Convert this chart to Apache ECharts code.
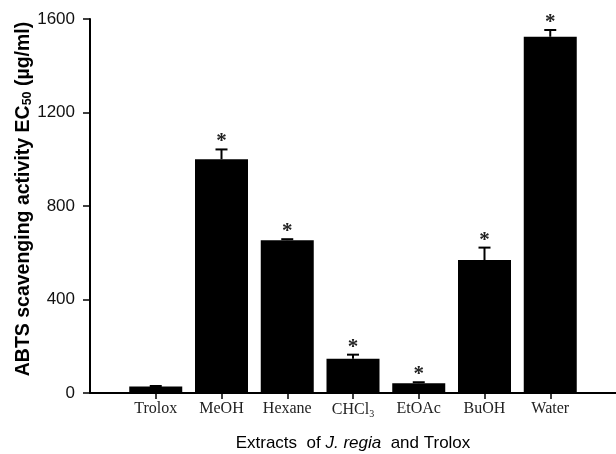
<!DOCTYPE html>
<html>
<head>
<meta charset="utf-8">
<script src="https://cdn.jsdelivr.net/npm/echarts@6/dist/echarts.min.js"></script>
<style>
  html, body { margin: 0; padding: 0; background: #fff; }
  #chart_con { width: 616px; height: 454px; }
</style>
</head>
<body>
<div id="chart_con"></div>
<script>
// extracts on the x axis (Trolox is the reference)
const categories = ['Trolox', 'MeOH', 'Hexane', 'CHCl3', 'EtOAc', 'BuOH', 'Water'];
// EC50 means and error bar sizes, ug/ml
const ec50 = [28, 1000, 654, 147, 42, 569, 1524];
const ec50Err = [2, 42, 4, 17, 4, 53, 29];
// significance marks above bars
const marks = ['', '*', '*', '*', '*', '*', '*'];
const yTicks = [0, 400, 800, 1200, 1600];

const idx = categories.map((c, i) => i);

let chart = echarts.init(document.getElementById('chart_con'));

const option = {
    animation: false,
    grid: {
        left: 90,
        right: 0,
        top: 19,
        bottom: 61,
        outerBoundsMode: 'none'
    },
    xAxis: {
        type: 'value',
        min: -1,
        max: 7,
        splitLine: { show: false },
        axisLine: { show: true, onZero: false, lineStyle: { color: '#000', width: 2 } },
        axisTick: { show: true, length: 6, customValues: idx, lineStyle: { color: '#000', width: 1.5 } },
        axisLabel: {
            customValues: idx,
            margin: 8,
            fontFamily: 'Liberation Serif',
            fontSize: 16,
            color: '#222',
            formatter: function (v) {
                let c = categories[Math.round(v)];
                if (c === 'CHCl3') return 'CHCl{sub|3}';
                return c;
            },
            rich: {
                sub: { fontFamily: 'Liberation Serif', fontSize: 10, color: '#222', verticalAlign: 'bottom', padding: [8, 0, 0, 0] }
            }
        },
        name: 'Extracts  of {it|J. regia}  and Trolox',
        nameLocation: 'middle',
        nameGap: 42,
        nameTextStyle: {
            fontFamily: 'Liberation Sans',
            fontSize: 17,
            color: '#000',
            rich: {
                it: { fontFamily: 'Liberation Sans', fontSize: 17, fontStyle: 'italic', color: '#000' }
            }
        }
    },
    yAxis: {
        type: 'value',
        min: 0,
        max: 1600,
        interval: 400,
        splitLine: { show: false },
        axisLine: { show: true, onZero: false, lineStyle: { color: '#000', width: 2 } },
        axisTick: { show: true, length: 7, lineStyle: { color: '#000', width: 1.5 } },
        axisLabel: {
            margin: 15,
            fontFamily: 'Liberation Sans',
            fontSize: 17,
            color: '#111',
            formatter: function (v) { return yTicks.indexOf(v) >= 0 ? String(v) : ''; }
        },
        name: 'ABTS scavenging activity EC{sub|50} (µg/ml)',
        nameLocation: 'middle',
        nameRotate: 90,
        nameGap: 56,
        nameMoveOverlap: false,
        nameTextStyle: {
            fontFamily: 'Liberation Sans',
            fontSize: 19.5,
            fontWeight: 'bold',
            color: '#000',
            padding: [0, 0, 0, 14],
            rich: {
                sub: { fontFamily: 'Liberation Sans', fontSize: 12.5, fontWeight: 'bold', color: '#000', padding: [8, 0, 0, 0] }
            }
        }
    },
    series: [
        {
            name: 'EC50',
            type: 'bar',
            barWidth: 53,
            itemStyle: { color: '#000' },
            data: ec50.map((v, i) => [i, v])
        },
        {
            name: 'err',
            type: 'custom',
            data: ec50.map((v, i) => [i, v, v + ec50Err[i], marks[i]]),
            renderItem: function (params, api) {
                let x = api.value(0);
                let top = api.coord([x, api.value(2)]);
                let base = api.coord([x, api.value(1)]);
                let half = 6;
                let children = [
                    { type: 'line', shape: { x1: top[0], y1: base[1], x2: top[0], y2: top[1] }, style: { stroke: '#000', lineWidth: 2 } },
                    { type: 'line', shape: { x1: top[0] - half, y1: top[1], x2: top[0] + half, y2: top[1] }, style: { stroke: '#000', lineWidth: 2 } }
                ];
                let m = marks[params.dataIndex];
                if (m) {
                    children.push({
                        type: 'text',
                        style: {
                            text: m, x: top[0], y: top[1] + 3,
                            align: 'center', verticalAlign: 'bottom',
                            font: 'bold 21px "Liberation Serif"', fill: '#222'
                        }
                    });
                }
                return { type: 'group', children: children };
            },
            z: 3
        }
    ]
};

chart.setOption(option);

window.addEventListener('resize', function () {
    chart.resize();
});
</script>
</body>
</html>
